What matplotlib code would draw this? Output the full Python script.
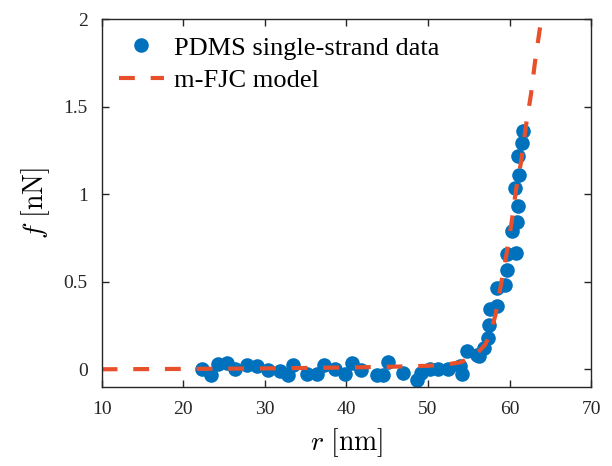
import matplotlib
matplotlib.use('Agg')
from matplotlib import pyplot as plt

plt.rcParams['font.family'] = ['Liberation Serif', 'DejaVu Serif']
plt.rcParams['mathtext.fontset'] = 'cm'

# measured points (r in nm, f in nN)
r_data = [22.25, 23.36, 24.29, 25.32, 26.34, 27.77, 29.07, 30.42, 31.85, 32.87,
          33.48, 35.12, 36.35, 37.24, 38.59, 39.82, 40.64, 41.78, 43.70, 44.51,
          45.12, 46.89, 48.60, 49.09, 50.23, 51.25, 52.48, 53.91, 54.12, 54.73,
          55.96, 56.27, 56.85, 57.38, 57.50, 57.59, 58.48, 58.48, 59.42, 59.63,
          59.63, 60.77, 60.28, 60.96, 60.98, 60.69, 61.14, 61.02, 61.47, 61.67]
f_data = [0.000, -0.030, 0.030, 0.036, 0.000, 0.023, 0.017, -0.006, -0.011, -0.034,
          0.023, -0.025, -0.025, 0.023, 0.000, -0.025, 0.033, -0.006, -0.034, -0.034,
          0.042, -0.021, -0.063, -0.021, 0.000, 0.000, 0.000, 0.017, -0.025, 0.105,
          0.080, 0.074, 0.124, 0.181, 0.252, 0.347, 0.362, 0.465, 0.479, 0.565,
          0.660, 0.666, 0.790, 0.841, 0.933, 1.038, 1.109, 1.219, 1.295, 1.362]

# m-FJC model curve
r_model = [10, 20, 30, 40, 45, 50, 52, 54, 55, 56, 57, 57.6, 58.27, 58.97, 59.67,
           60.28, 60.77, 61.39, 62.0, 62.62, 63.1, 63.8, 64.4]
f_model = [0, 0.002, 0.005, 0.01, 0.014, 0.02, 0.026, 0.04, 0.06, 0.09, 0.14, 0.2,
           0.31, 0.49, 0.67, 0.85, 1.02, 1.18, 1.39, 1.57, 1.75, 1.975, 2.15]

fig = plt.figure(figsize=(6.12, 4.66), dpi=100)
ax = fig.add_axes([0.166, 0.170, 0.800, 0.789])

ax.plot(r_data, f_data, 'o', color='#0072BD', markersize=10.5, markeredgewidth=0,
        label='PDMS single-strand data')
ax.plot(r_model, f_model, '--', color='#E8502B', linewidth=3, dashes=(3.8, 3.8),
        label='m-FJC model')

ax.set_xlim(10, 70)
ax.set_ylim(-0.1, 2)
ax.set_xticks([10, 20, 30, 40, 50, 60, 70])
ax.set_yticks([0, 0.5, 1, 1.5, 2])
ax.set_yticklabels(['0', '0.5', '1', '1.5', '2'])

ax.tick_params(direction='in', top=True, right=True, length=5, width=1,
               labelsize=14, colors='#262626', pad=10)
for s in ax.spines.values():
    s.set_color('#262626')
    s.set_linewidth(1)

ax.set_xlabel(r'$r\ [\mathrm{nm}]$', fontsize=20, labelpad=6)
ax.set_ylabel(r'$f\ [\mathrm{nN}]$', fontsize=20, labelpad=8)

ax.legend(loc='upper left', frameon=False, fontsize=19, handlelength=1.7,
          borderaxespad=0.3, handletextpad=0.4, labelspacing=0.35,
          borderpad=0.35)

fig.savefig('out.png', dpi=100)
